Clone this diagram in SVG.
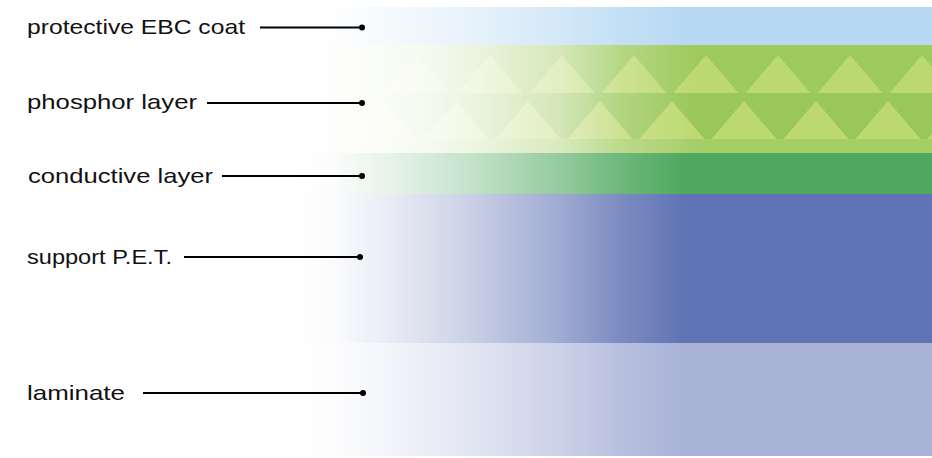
<svg xmlns="http://www.w3.org/2000/svg" width="932" height="458" viewBox="0 0 932 458">
<defs>
<style>
.lbl{font-family:"Liberation Sans","Open Sans",Arial,sans-serif;font-size:21px;fill:#111;}
.ln{stroke:#000;stroke-width:2;fill:none;}
.dot{fill:#000;}
.tri{fill:#bcd96f;}
</style>
<linearGradient id="fade" gradientUnits="userSpaceOnUse" x1="0" y1="0" x2="932" y2="0">
<stop offset="0" stop-color="#fff" stop-opacity="1"/>
<stop offset="0.32" stop-color="#fff" stop-opacity="1"/>
<stop offset="0.36" stop-color="#fff" stop-opacity="0.97"/>
<stop offset="0.42" stop-color="#fff" stop-opacity="0.86"/>
<stop offset="0.5" stop-color="#fff" stop-opacity="0.68"/>
<stop offset="0.60" stop-color="#fff" stop-opacity="0.4"/>
<stop offset="0.665" stop-color="#fff" stop-opacity="0.18"/>
<stop offset="0.735" stop-color="#fff" stop-opacity="0"/>
<stop offset="1" stop-color="#fff" stop-opacity="0"/>
</linearGradient>
<linearGradient id="fadeP" gradientUnits="userSpaceOnUse" x1="0" y1="0" x2="932" y2="0">
<stop offset="0" stop-color="#fff" stop-opacity="1"/>
<stop offset="0.33" stop-color="#fff" stop-opacity="1"/>
<stop offset="0.39" stop-color="#fff" stop-opacity="0.97"/>
<stop offset="0.45" stop-color="#fff" stop-opacity="0.91"/>
<stop offset="0.5" stop-color="#fff" stop-opacity="0.83"/>
<stop offset="0.60" stop-color="#fff" stop-opacity="0.57"/>
<stop offset="0.665" stop-color="#fff" stop-opacity="0.25"/>
<stop offset="0.75" stop-color="#fff" stop-opacity="0"/>
<stop offset="1" stop-color="#fff" stop-opacity="0"/>
</linearGradient>
<path id="t" d="M0,0 L32.5,38 L-32.5,38 Z"/>
</defs>
<rect width="932" height="458" fill="#fff"/>
<g id="layers">
<g id="coat"><rect x="0" y="7" width="932" height="38" fill="#b8d9f3"/></g>
<g id="phosphor">
<rect x="0" y="45" width="932" height="108" fill="#9dca5c"/>
<rect x="0" y="93" width="932" height="46" fill="#99c759"/>
<rect x="0" y="139" width="932" height="14" fill="#a6ce67"/>
<g class="tri">
<use href="#t" x="418" y="55"/><use href="#t" x="490" y="55"/><use href="#t" x="562" y="55"/><use href="#t" x="634" y="55"/><use href="#t" x="706" y="55"/><use href="#t" x="778" y="55"/><use href="#t" x="850" y="55"/><use href="#t" x="922" y="55"/>
<use href="#t" x="384" y="101"/><use href="#t" x="456" y="101"/><use href="#t" x="528" y="101"/><use href="#t" x="600" y="101"/><use href="#t" x="672" y="101"/><use href="#t" x="744" y="101"/><use href="#t" x="816" y="101"/><use href="#t" x="888" y="101"/><use href="#t" x="960" y="101"/>
</g>
</g>
<g id="conductive"><rect x="0" y="153" width="932" height="41" fill="#4fa85f"/></g>
<g id="support"><rect x="0" y="194" width="932" height="149" fill="#6073b4"/></g>
<g id="laminate"><rect x="0" y="343" width="932" height="113" fill="#a9b3d8"/></g>
<rect x="0" y="0" width="932" height="45" fill="url(#fade)"/>
<rect x="0" y="45" width="932" height="108" fill="url(#fadeP)"/>
<rect x="0" y="153" width="932" height="305" fill="url(#fade)"/>
</g>
<g id="connectors">
<line class="ln" x1="260" y1="27.5" x2="362" y2="27.5"/><circle class="dot" cx="362" cy="27.5" r="3"/>
<line class="ln" x1="207" y1="103" x2="362" y2="103"/><circle class="dot" cx="362" cy="103" r="3"/>
<line class="ln" x1="222" y1="176" x2="362" y2="176"/><circle class="dot" cx="362" cy="176" r="3"/>
<line class="ln" x1="184" y1="257" x2="360" y2="257"/><circle class="dot" cx="360" cy="257" r="3"/>
<line class="ln" x1="143" y1="393" x2="363" y2="393"/><circle class="dot" cx="363" cy="393" r="3"/>
</g>
<g id="label-coat"><text class="lbl" x="27" y="34" textLength="218" lengthAdjust="spacingAndGlyphs">protective EBC coat</text></g>
<g id="label-phosphor"><text class="lbl" x="27" y="109" textLength="170" lengthAdjust="spacingAndGlyphs">phosphor layer</text></g>
<g id="label-conductive"><text class="lbl" x="28" y="183" textLength="185" lengthAdjust="spacingAndGlyphs">conductive layer</text></g>
<g id="label-support"><text class="lbl" x="27" y="264" textLength="145" lengthAdjust="spacingAndGlyphs">support P.E.T.</text></g>
<g id="label-laminate"><text class="lbl" x="27" y="400" textLength="98" lengthAdjust="spacingAndGlyphs">laminate</text></g>
</svg>
